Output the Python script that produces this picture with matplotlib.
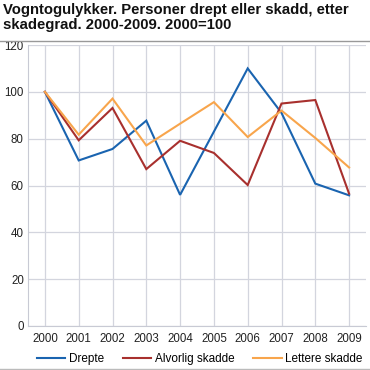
import matplotlib.pyplot as plt
from matplotlib.lines import Line2D

plt.rcParams['font.family'] = ['Liberation Sans', 'DejaVu Sans']

# Data
years = ['2000', '2001', '2002', '2003', '2004', '2005', '2006', '2007', '2008', '2009']
drepte = [100, 70.7, 75.6, 87.7, 56, 83, 110, 91, 60.8, 55.8]
alvorlig = [100, 79.3, 93.1, 67, 79.1, 73.9, 60.2, 95, 96.5, 56.5]
lettere = [100, 81.7, 97.1, 77.1, 86.4, 95.6, 80.7, 92, 80.3, 67.7]
series = ['Drepte', 'Alvorlig skadde', 'Lettere skadde']
colors = ['#1a64b0', '#a8302e', '#f8a54c']
yticks = [0, 20, 40, 60, 80, 100, 120]

fig = plt.figure(figsize=(3.7, 3.7), dpi=100)
ax = fig.add_axes([28/370, 1-326/370, 338/370, 281/370])

x = list(range(len(years)))
for vals, name, col in zip([drepte, alvorlig, lettere], series, colors):
	ax.plot(x, vals, color=col, lw=1.5, label=name, solid_joinstyle='miter')

ax.set_xlim(-0.5, len(years)-0.5)
ax.set_ylim(0, 120)
ax.set_yticks(yticks)
ax.set_xticks(x)
ax.set_xticklabels(years)
ax.tick_params(length=0, labelsize=8.3, colors='#222222')
ax.tick_params(axis='x', pad=5)
ax.tick_params(axis='y', pad=3)
ax.grid(True, color='#d3d5de', lw=0.9)
ax.set_axisbelow(True)
for s in ['top', 'right']:
	ax.spines[s].set_visible(False)
ax.spines['left'].set_color('#c8cad4')
ax.spines['bottom'].set_color('#c8cad4')

fig.text(3/370, 1-3/370, 'Vogntogulykker. Personer drept eller skadd, etter\nskadegrad. 2000-2009. 2000=100',
		 fontsize=10.7, fontweight='bold', va='top', ha='left', linespacing=1.05, color='#111111')
fig.add_artist(Line2D([0, 1], [1-41/370, 1-41/370], color='#999999', lw=1))
fig.add_artist(Line2D([0, 1], [1-368.5/370, 1-368.5/370], color='#bbbbbb', lw=1))

fig.legend(loc='center', bbox_to_anchor=(0.54, 1-359/370), ncol=3, frameon=False,
		   fontsize=8.5, handlelength=2.4, handletextpad=0.3, columnspacing=1.6,
		   borderpad=0, borderaxespad=0)

fig.savefig('out.png', dpi=100)
